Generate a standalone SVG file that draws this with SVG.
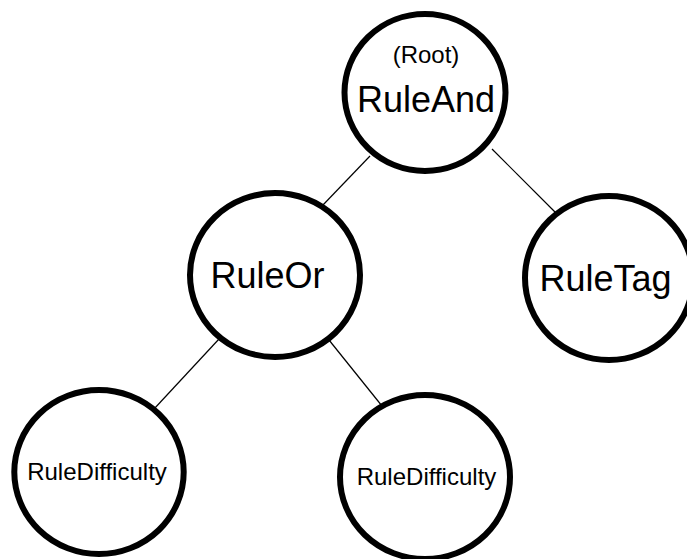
<svg xmlns="http://www.w3.org/2000/svg" width="687" height="559" viewBox="0 0 687 559">
  <style>
    .node ellipse { fill: #ffffff; stroke: #000000; stroke-width: 6; }
    .node text { font-family: "Liberation Sans", Arial, sans-serif; fill: #000000; text-anchor: middle; }
    .big { font-size: 36px; }
    .small { font-size: 24px; }
    #edges line { stroke: #000000; stroke-width: 1.2; }
  </style>
  <rect width="687" height="559" fill="#ffffff"/>

  <!-- tree edges, drawn beneath the nodes -->
  <g id="edges">
    <line x1="370" y1="156" x2="322" y2="206"/>
    <line x1="492" y1="149" x2="556" y2="213"/>
    <line x1="219" y1="339" x2="154" y2="409"/>
    <line x1="329" y1="340" x2="382" y2="406"/>
  </g>

  <g id="root" class="node">
    <ellipse cx="425" cy="92.5" rx="80.5" ry="78.5"/>
    <text class="small" x="426" y="63">(Root)</text>
    <text class="big" x="426" y="112">RuleAnd</text>
  </g>

  <g id="rule-or" class="node">
    <ellipse cx="275" cy="275" rx="85" ry="82"/>
    <text class="big" x="267.5" y="287.5">RuleOr</text>
  </g>

  <g id="rule-tag" class="node">
    <ellipse cx="609" cy="278" rx="84" ry="82"/>
    <text class="big" x="605.5" y="291">RuleTag</text>
  </g>

  <g id="rule-difficulty-1" class="node">
    <ellipse cx="99" cy="472" rx="84.7" ry="82"/>
    <text class="small" x="97" y="480">RuleDifficulty</text>
  </g>

  <g id="rule-difficulty-2" class="node">
    <ellipse cx="425" cy="477" rx="85" ry="82"/>
    <text class="small" x="426.5" y="485">RuleDifficulty</text>
  </g>
</svg>
